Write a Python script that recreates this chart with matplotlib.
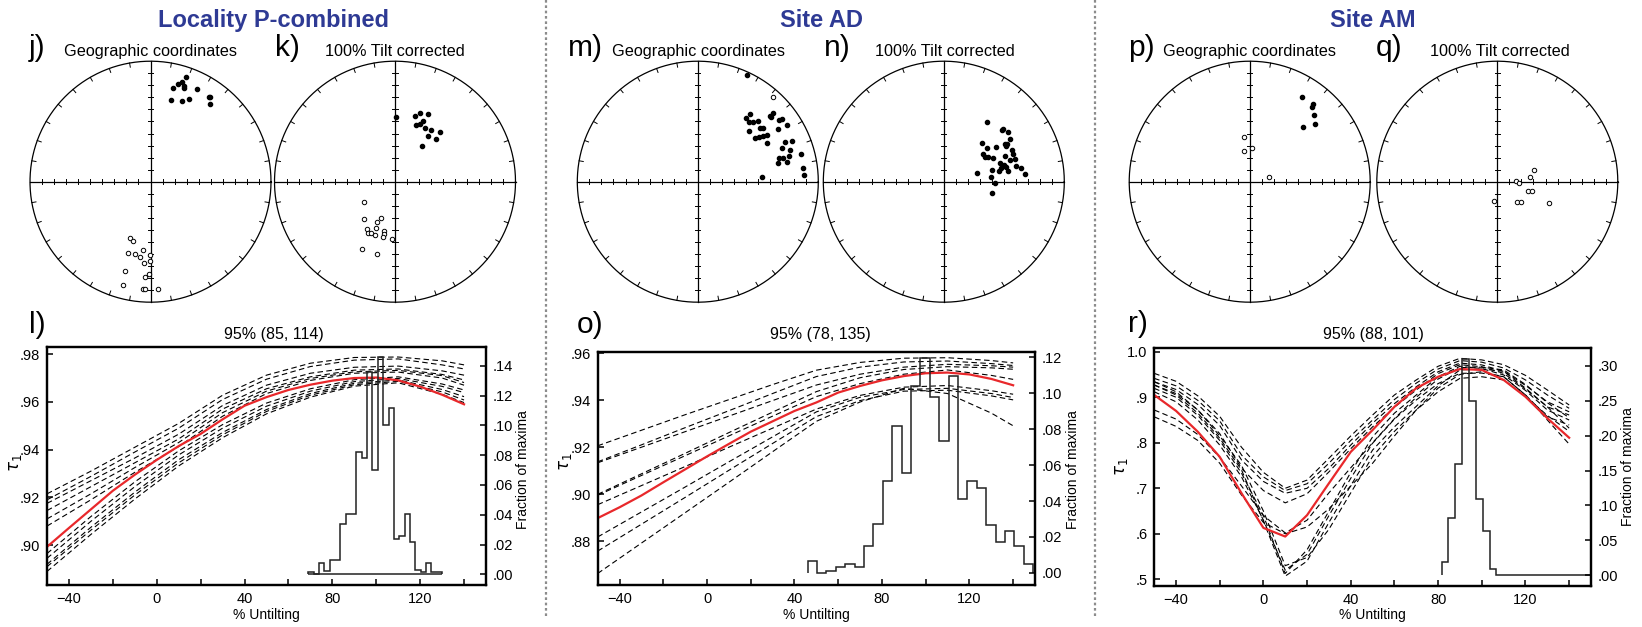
import numpy as np
import matplotlib
matplotlib.use("Agg")
import matplotlib.pyplot as plt
from matplotlib.lines import Line2D

plt.rcParams['font.family'] = ['Liberation Sans', 'DejaVu Sans']

W, H = 1642, 627

# ---- stereonet points, unit-circle coords (east, north) ----
j_down_e = [.295, .229, .190, .265, .274, .280, .387, .167, .262, .321, .488, .497, .491]
j_down_n = [.867, .808, .775, .828, .797, .778, .772, .681, .669, .686, .703, .700, .644]
j_up_e = [-.170, -.146, -.063, -.185, -.125, -.089, -.006, -.051, -.003, -.208, -.045, -.012, -.232, -.065, -.048, .063]
j_up_n = [-.464, -.494, -.564, -.589, -.597, -.625, -.611, -.675, -.661, -.742, -.792, -.769, -.856, -.892, -.892, -.889]

k_down_e = [.012, .163, .205, .273, .231, .172, .205, .249, .300, .374, .270, .338, .220]
k_down_n = [.535, .546, .573, .560, .504, .471, .476, .446, .432, .416, .382, .352, .299]
k_up_e = [-.255, -.261, -.116, -.151, -.234, -.157, -.226, -.196, -.166, -.089, -.092, -.101, -.024, -.270, -.148]
k_up_n = [-.172, -.310, -.305, -.338, -.391, -.385, -.424, -.424, -.443, -.407, -.435, -.457, -.476, -.562, -.601]

m_down_e = [.407, .434, .401, .429, .456, .503, .423, .517, .537, .476, .509, .537, .575, .573, .600, .606,
            .625, .675, .700, .664, .741, .725, .780, .697, .763, .678, .705, .758, .664, .741, .858, .869, .882, .531]
m_down_n = [.885, .562, .528, .495, .495, .506, .420, .445, .445, .360, .371, .376, .387, .318, .548, .534,
            .573, .512, .523, .437, .467, .329, .335, .277, .263, .194, .194, .213, .155, .160, .232, .116, .058, .041]
m_up_e = [.625]
m_up_n = [.700]

n_down_e = [.355, .313, .355, .432, .327, .341, .368, .410, .277, .391, .404, .427, .404, .460, .465, .479, .493,
            .535, .507, .515, .548, .526, .507, .562, .576, .590, .548, .515, .535, .596, .637, .673, .471, .501]
n_down_n = [.493, .319, .283, .291, .227, .208, .202, .194, .069, .042, .097, -.008, -.097, .089, .158, .429, .440,
            .410, .313, .299, .352, .310, .213, .263, .227, .186, .180, .125, .089, .130, .111, .061, .116, .139]
n_up_e = []
n_up_n = []

p_down_e = [.437, .526, .514, .535, .443, .538]
p_down_n = [.699, .644, .619, .550, .456, .475]
p_up_e = [-.045, -.048, .015, .163]
p_up_n = [.373, .254, .276, .039]

q_down_e = []
q_down_n = []
q_up_e = [.301, .271, .158, .176, .256, .292, .164, .196, .429, -.024]
q_up_n = [.097, .039, .006, -.014, -.078, -.078, -.166, -.166, -.180, -.158]

# ---- fold-test curves ----
red_x = [-50, -40, -30, -20, -10, 0, 10, 20, 30, 40, 50, 60, 70, 80, 90, 100, 110, 120, 130, 140]
dash_x = [-50, -30, -10, 10, 30, 50, 70, 90, 110, 130, 140]

l_red = [.8993, .9072, .9150, .9228, .9295, .9357, .9415, .9466, .9527, .9584,
         .9620, .9650, .9672, .9689, .9700, .9702, .9690, .9664, .9630, .9590]
l_dashed = [
    [.9215, .9310, .9410, .9510, .9628, .9712, .9762, .9786, .9788, .9772, .9755],
    [.9190, .9288, .9390, .9490, .9610, .9695, .9748, .9775, .9780, .9755, .9738],
    [.9175, .9270, .9365, .9465, .9585, .9670, .9720, .9745, .9750, .9730, .9712],
    [.9145, .9245, .9345, .9445, .9570, .9655, .9705, .9733, .9738, .9715, .9692],
    [.9110, .9215, .9325, .9430, .9555, .9645, .9698, .9726, .9732, .9710, .9681],
    [.9080, .9190, .9305, .9413, .9540, .9635, .9690, .9720, .9725, .9700, .9670],
    [.8965, .9120, .9265, .9395, .9505, .9595, .9655, .9693, .9705, .9675, .9650],
    [.8945, .9100, .9245, .9378, .9490, .9582, .9645, .9685, .9698, .9665, .9639],
    [.8920, .9075, .9222, .9358, .9472, .9568, .9635, .9678, .9692, .9652, .9622],
    [.8910, .9063, .9210, .9345, .9462, .9560, .9628, .9672, .9686, .9642, .9608],
    [.8890, .9045, .9193, .9332, .9450, .9550, .9620, .9666, .9680, .9632, .9597],
]
l_hist_start, l_hist_width = 69.0, 2.44
l_hist = [.0016, 0, .0079, .0020, .0094, .0094, .0341, .0404, .0404, .0819, .0778, .1361, .0700,
          .1462, .1003, .1119, .0236, .0256, .0402, .0217, .0027, .0016, .0076, .0016, .0016]

o_red = [.8899, .8945, .8995, .9051, .9106, .9161, .9214, .9266, .9310, .9354,
         .9390, .9432, .9460, .9484, .9502, .9514, .9517, .9509, .9490, .9463]
o_dashed = [
    [.9206, .9272, .9338, .9402, .9466, .9527, .9560, .9578, .9580, .9568, .9558],
    [.9138, .9210, .9283, .9355, .9428, .9500, .9540, .9562, .9566, .9555, .9547],
    [.9134, .9200, .9266, .9332, .9398, .9464, .9510, .9540, .9552, .9546, .9540],
    [.9000, .9087, .9174, .9262, .9349, .9436, .9495, .9530, .9542, .9537, .9531],
    [.8996, .9080, .9164, .9248, .9332, .9415, .9470, .9510, .9528, .9505, .9488],
    [.8956, .9037, .9118, .9200, .9281, .9362, .9420, .9455, .9462, .9440, .9425],
    [.8819, .8925, .9031, .9138, .9244, .9350, .9412, .9445, .9450, .9428, .9411],
    [.8759, .8873, .8987, .9102, .9216, .9330, .9398, .9438, .9442, .9418, .9401],
    [.8664, .8793, .8922, .9051, .9181, .9310, .9392, .9450, .9428, .9345, .9291],
]
o_hist_start, o_hist_width = 46.0, 4.3
o_hist = [.0069, 0, .0010, .0032, .0047, .0032, .0149, .0273, .0514, .0816, .0555, .1038,
          .1195, .0977, .0732, .1094, .0412, .0514, .0473, .0269, .0171, .0232, .0149, .0051]

r_red = [.905, .870, .824, .769, .689, .613, .594, .641, .711, .780,
         .828, .879, .920, .945, .962, .960, .938, .901, .854, .811]
r_dashed = [
    [.9525, .935, .903, .858, .790, .735, .700, .718, .766, .815, .861, .905, .938, .968, .9855, .982, .9715, .948, .916, .883],
    [.9415, .925, .893, .848, .773, .725, .695, .710, .755, .805, .850, .895, .931, .962, .9805, .977, .9642, .938, .905, .8757],
    [.934, .917, .884, .838, .762, .715, .689, .700, .744, .795, .843, .886, .923, .956, .975, .971, .957, .926, .890, .868],
    [.927, .908, .872, .820, .744, .695, .668, .688, .736, .787, .835, .878, .916, .952, .9715, .967, .9525, .918, .879, .861],
    [.9195, .900, .860, .805, .733, .640, .513, .565, .650, .735, .813, .865, .905, .945, .968, .963, .949, .915, .872, .850],
    [.912, .890, .850, .795, .725, .630, .520, .555, .640, .722, .799, .852, .894, .930, .9525, .953, .945, .905, .857, .839],
    [.9268, .905, .865, .810, .740, .628, .507, .540, .625, .706, .784, .835, .880, .925, .960, .962, .957, .920, .879, .832],
    [.9341, .912, .872, .815, .750, .650, .530, .548, .610, .690, .770, .825, .872, .912, .9415, .945, .938, .902, .860, .825],
    [.872, .852, .818, .768, .705, .640, .602, .630, .690, .745, .800, .853, .900, .940, .965, .966, .960, .928, .888, .855],
    [.857, .836, .805, .755, .685, .625, .600, .615, .655, .705, .755, .815, .872, .920, .950, .956, .945, .905, .850, .797],
]
r_hist_start, r_hist_width = 81.6, 3.14
r_hist = [.0195, .0825, .1589, .3096, .2495, .1088, .0638, .0086,
          0, 0, 0, 0, 0, 0, 0, 0, 0, 0, 0, 0, 0, 0]

fig = plt.figure(figsize=(W / 100, H / 100), dpi=100)


def px_box(x0, y0, x1, y1):
    return [x0 / W, 1 - y1 / H, (x1 - x0) / W, (y1 - y0) / H]


def ftext(x, y, s, **kw):
    fig.text(x / W, 1 - y / H, s, **kw)


def stereonet(cx, cy, de, dn, ue, un):
    R = 120.5
    ax = fig.add_axes(px_box(cx - R, cy - R, cx + R, cy + R))
    ax.set_xlim(-1, 1)
    ax.set_ylim(-1, 1)
    ax.axis('off')
    t = np.linspace(0, 2 * np.pi, 400)
    ax.plot(np.cos(t), np.sin(t), color='k', lw=0.9, clip_on=False)
    ax.plot([-1, 1], [0, 0], color='k', lw=0.9, clip_on=False)
    ax.plot([0, 0], [-1, 1], color='k', lw=0.9, clip_on=False)
    tk = 0.022
    for r in np.arange(1, 10) / 10:
        for s in (-1, 1):
            ax.plot([s * r, s * r], [-tk, tk], color='k', lw=0.7)
            ax.plot([-tk, tk], [s * r, s * r], color='k', lw=0.7)
    for a in np.radians(np.arange(0, 360, 10)):
        ax.plot([np.cos(a), 0.965 * np.cos(a)], [np.sin(a), 0.965 * np.sin(a)], color='k', lw=0.7)
    if len(de):
        ax.plot(de, dn, 'o', ms=3.0, color='k', clip_on=False)
    if len(ue):
        ax.plot(ue, un, 'o', ms=3.2, mfc='white', mec='k', mew=0.7, clip_on=False)


def fmt(v, d):
    s = f'{v:.{d}f}'
    return s[1:] if s.startswith('0') else s


def tilt_panel(box, ylim, yticks, yd, ylim2, yticks2, y2d, red, dx, dashed, hstart, hwidth, hist, baseline):
    ax = fig.add_axes(px_box(*box))
    ax.set_xlim(-50, 150)
    ax.set_ylim(*ylim)
    for ys in dashed:
        ax.plot(dx, ys, color='k', lw=0.8, ls=(0, (5, 3)))
    ax.plot(red_x, red, color='#e8282b', lw=1.6, zorder=5)
    ax.set_xticks([-40, 0, 40, 80, 120])
    ax.set_xticks([-20, 20, 60, 100, 140], minor=True)
    ax.set_yticks(yticks)
    ax.set_yticklabels([fmt(v, yd) for v in yticks])
    ax.tick_params(which='both', direction='in', length=4.5, width=1.1, labelsize=10.5, pad=5,
                   top=False, right=False)
    for sp in ax.spines.values():
        sp.set_linewidth(1.6)
    ax2 = ax.twinx()
    ax2.set_ylim(*ylim2)
    edges = hstart + hwidth * np.arange(len(hist) + 1)
    ax2.stairs(hist, edges, color='#222222', lw=1.1)
    if baseline:
        ax2.hlines(0, edges[0], edges[-1], color='#222222', lw=1.1)
    ax2.set_yticks(yticks2)
    ax2.set_yticklabels([fmt(v, y2d) for v in yticks2])
    ax2.tick_params(direction='in', length=4.5, width=1.1, labelsize=10.5, pad=5)
    for sp in ax2.spines.values():
        sp.set_linewidth(1.6)
    return ax


# stereonets
stereonet(150.5, 181.7, j_down_e, j_down_n, j_up_e, j_up_n)
stereonet(395.0, 181.7, k_down_e, k_down_n, k_up_e, k_up_n)
stereonet(697.8, 181.7, m_down_e, m_down_n, m_up_e, m_up_n)
stereonet(943.8, 181.7, n_down_e, n_down_n, n_up_e, n_up_n)
stereonet(1249.7, 181.7, p_down_e, p_down_n, p_up_e, p_up_n)
stereonet(1497.3, 181.7, q_down_e, q_down_n, q_up_e, q_up_n)

# fold test panels
tilt_panel((47, 346.5, 486, 585.3), (0.8832, 0.9832), [.90, .92, .94, .96, .98], 2,
           (-0.0074, 0.153), [0, .02, .04, .06, .08, .10, .12, .14], 2,
           l_red, dash_x, l_dashed, l_hist_start, l_hist_width, l_hist, True)
tilt_panel((597.7, 352.3, 1035, 585), (0.8615, 0.9603), [.88, .90, .92, .94, .96], 2,
           (-0.0067, 0.1227), [0, .02, .04, .06, .08, .10, .12], 2,
           o_red, dash_x, o_dashed, o_hist_start, o_hist_width, o_hist, False)
tilt_panel((1154.2, 348.3, 1591, 585.7), (0.486, 1.0075), [.5, .6, .7, .8, .9, 1.0], 1,
           (-0.0149, 0.325), [0, .05, .10, .15, .20, .25, .30], 2,
           r_red, red_x, r_dashed, r_hist_start, r_hist_width, r_hist, False)

# headings
blue = '#2e3a94'
for s, x in [('Locality P-combined', 274), ('Site AD', 821), ('Site AM', 1373)]:
    ftext(x, 26.7, s, ha='center', va='baseline', fontsize=17, fontweight='bold', color=blue)

for s, x, y in [('j)', 28.6, 56.5), ('k)', 275, 56.5), ('m)', 568.3, 56.5), ('n)', 824.3, 56.5),
                ('p)', 1128.4, 56.5), ('q)', 1375.7, 56.5),
                ('l)', 28.6, 333), ('o)', 576.7, 333), ('r)', 1128, 332)]:
    ftext(x, y, s, ha='left', va='baseline', fontsize=21.5)

for s, x in [('Geographic coordinates', 63.6), ('100% Tilt corrected', 325),
             ('Geographic coordinates', 611.7), ('100% Tilt corrected', 875),
             ('Geographic coordinates', 1163), ('100% Tilt corrected', 1429.5)]:
    ftext(x, 56, s, ha='left', va='baseline', fontsize=11.7)

for s, x in [('95% (85, 114)', 273.6), ('95% (78, 135)', 820), ('95% (88, 101)', 1373)]:
    ftext(x, 339, s, ha='center', va='baseline', fontsize=11.5)

for x in [266.5, 816.3, 1372.6]:
    ftext(x, 615, '% Untilting', ha='center', va='center', fontsize=10)

for x, y in [(16, 463), (565, 462), (1121, 467)]:
    ftext(x, y, r'$\tau_1$', ha='center', va='center', rotation=90, fontsize=12)

for x, y in [(523, 470), (1073, 470), (1628, 467)]:
    ftext(x, y, 'Fraction of maxima', ha='center', va='center', rotation=90, fontsize=10)

# dotted separators
for x in [546, 1095]:
    fig.add_artist(Line2D([x / W, x / W], [1, 1 - 617 / H], transform=fig.transFigure,
                          color='#8c8c8c', lw=1.6, ls=(0, (1.2, 1.2))))

fig.savefig('out.png', dpi=100)
